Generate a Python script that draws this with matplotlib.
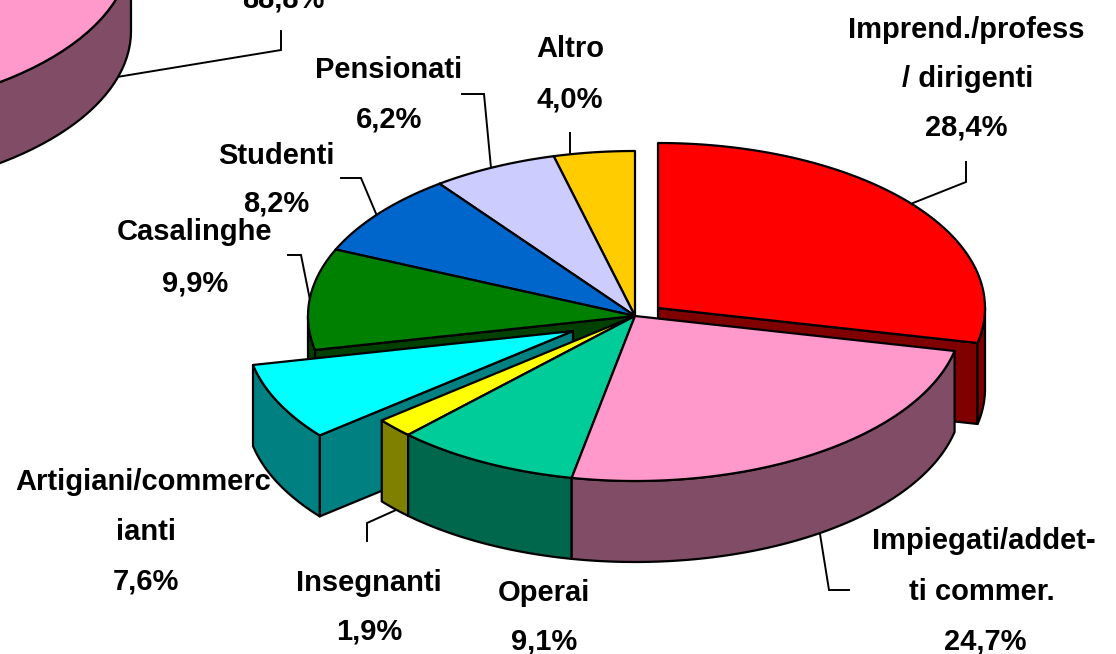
import numpy as np
import matplotlib
matplotlib.use('Agg')
import matplotlib.pyplot as plt
from matplotlib.patches import Polygon

categories = ['Imprend./profess / dirigenti', 'Impiegati/addetti commer.', 'Operai', 'Insegnanti',
              'Artigiani/commercianti', 'Casalinghe', 'Studenti', 'Pensionati', 'Altro']
values = [28.4, 24.7, 9.1, 1.9, 7.6, 9.9, 8.2, 6.2, 4.0]
top_colors = ['#FF0000', '#FF99CC', '#00CC99', '#FFFF00', '#00FFFF', '#008000', '#0066CC', '#CCCCFF', '#FFCC00']
side_colors = ['#800000', '#804C66', '#00664C', '#808000', '#008080', '#004000', '#003366', '#666680', '#806600']
big_value = 88.8

# geometria della torta 3D, in pixel
CENTER = (635, 316)
EXPLODE = {0: (23, -8), 4: (-62, 15)}
RX, RY, DEPTH = 327, 165, 81
BIG_CENTER = (-196, -50)
DRAW_ORDER = [8, 7, 6, 5, 0, 4, 3, 2, 1]
LW = 1.6

label_lines = [
    ('Imprend./profess', 966, 30), ('/ dirigenti', 968, 79), ('28,4%', 966, 128),
    ('Impiegati/addet-', 984, 541), ('ti commer.', 982, 592), ('24,7%', 985, 641),
    ('Operai', 544, 593), ('9,1%', 544, 641),
    ('Insegnanti', 369, 583), ('1,9%', 369, 632),
    ('Artigiani/commerc', 143, 482), ('ianti', 146, 532), ('7,6%', 146, 582),
    ('Casalinghe', 195, 232), ('9,9%', 195, 283),
    ('Studenti', 276, 156), ('8,2%', 276, 204),
    ('Pensionati', 389, 70), ('6,2%', 389, 119),
    ('Altro', 570, 49), ('4,0%', 570, 99),
    ('88,8%', 283, -1),
]
leaders = [
    [(117, 77), (281, 50), (281, 31)],
    [(913, 203), (966, 182), (966, 162)],
    [(820, 534), (829, 590), (849, 590)],
    [(570, 133), (570, 154), (592, 154)],
    [(462, 94), (484, 94), (491, 168)],
    [(341, 178), (361, 178), (377, 216)],
    [(288, 255), (301, 255), (310, 300)],
    [(367, 541), (367, 523), (396, 510)],
]


def rim_xy(center, t):
    t = np.radians(t)
    return center[0] + RX * np.sin(t), center[1] - RY * np.cos(t)


def draw_slice(ax, center, a, b, top, side):
    # facce radiali visibili
    for t, visible in ((a, np.sin(np.radians(a)) < 0), (b, np.sin(np.radians(b)) > 0)):
        if visible:
            x, y = rim_xy(center, t)
            face = [center, (x, y), (x, y + DEPTH), (center[0], center[1] + DEPTH)]
            ax.add_patch(Polygon(face, fc=side, ec='black', lw=LW, joinstyle='round', zorder=3))
    # bordo esterno, solo la parte verso chi guarda
    lo, hi = max(a, 90), min(b, 270)
    if lo < hi:
        x, y = rim_xy(center, np.linspace(lo, hi, 80))
        pts = np.r_[np.c_[x, y], np.c_[x, y + DEPTH][::-1]]
        ax.add_patch(Polygon(pts, fc=side, ec='black', lw=LW, joinstyle='round', zorder=3))
    x, y = rim_xy(center, np.linspace(a, b, 120))
    pts = np.r_[[center], np.c_[x, y]]
    ax.add_patch(Polygon(pts, fc=top, ec='black', lw=LW, joinstyle='round', zorder=3))


fig = plt.figure(figsize=(11.16, 6.54), dpi=100)
ax = fig.add_axes([0, 0, 1, 1])
ax.set_xlim(0, 1116)
ax.set_ylim(654, 0)
ax.axis('off')

# fetta grande tagliata in alto a sinistra
draw_slice(ax, BIG_CENTER, 90, 90 + big_value * 3.6, '#FF99CC', '#804C66')

angles = np.r_[0, np.cumsum(values)] / sum(values) * 360
for i in DRAW_ORDER:
    dx, dy = EXPLODE.get(i, (0, 0))
    draw_slice(ax, (CENTER[0] + dx, CENTER[1] + dy), angles[i], angles[i + 1], top_colors[i], side_colors[i])

for line in leaders:
    xs, ys = zip(*line)
    ax.plot(xs, ys, color='black', lw=1.4, zorder=2, solid_joinstyle='miter')

for txt, x, y in label_lines:
    ax.text(x, y, txt, ha='center', va='center', fontsize=21, fontweight='bold',
            family='Liberation Sans', color='black', zorder=1)

plt.savefig('out.png', dpi=100)
plt.close()
